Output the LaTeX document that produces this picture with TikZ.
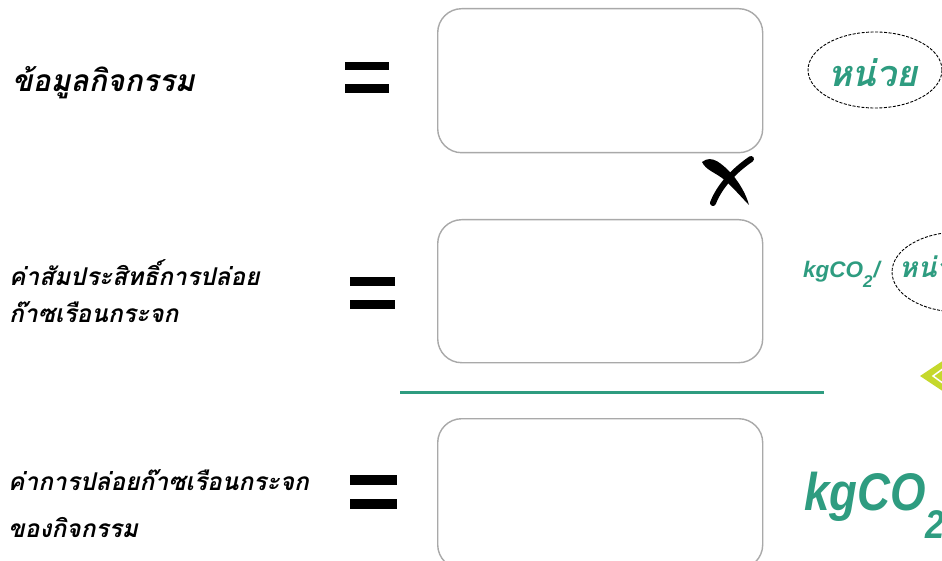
\documentclass[tikz,border=0pt]{standalone}
\usepackage{fontspec}
\usetikzlibrary{shapes.geometric}
\setmainfont{Liberation Sans}
\newfontfamily\thaifont[Script=Thai]{Loma}
\newfontfamily\latinb{Liberation Sans}
\newfontfamily\latinc[FakeStretch=0.86]{Liberation Sans}
\definecolor{tgreen}{HTML}{2E9C80}
\definecolor{lime}{HTML}{C5D82C}
\definecolor{boxgray}{HTML}{A9A9A9}
\tikzset{
  blankbox/.style={draw=boxgray, line width=1.4pt, rounded corners=24pt, fill=white},
  eqbar/.style={fill=black, draw=none},
  label/.style={anchor=base west, inner sep=0pt, font=\thaifont\bfseries\itshape},
  unit/.style={anchor=base west, inner sep=0pt, text=tgreen},
  dashell/.style={draw=black, dashed, line width=0.9pt, dash pattern=on 3pt off 1.5pt}
}
\begin{document}
\begin{tikzpicture}[x=1pt,y=-1pt]
\useasboundingbox (0,0) rectangle (942,561);
\clip (0,0) rectangle (942,561);
\fill[white] (0,0) rectangle (942,561);

% labels
\node[label, font=\thaifont\bfseries\itshape\fontsize{30}{36}\selectfont] (l1) at (12,92) {ข้อมูลกิจกรรม};
\node[label, font=\thaifont\bfseries\itshape\fontsize{24.5}{30}\selectfont] (l2a) at (9,286) {ค่าสัมประสิทธิ์การปล่อย};
\node[label, font=\thaifont\bfseries\itshape\fontsize{24.5}{30}\selectfont] (l2b) at (9,322) {ก๊าซเรือนกระจก};
\node[label, font=\thaifont\bfseries\itshape\fontsize{24.5}{30}\selectfont] (l3a) at (8,490) {ค่าการปล่อยก๊าซเรือนกระจก};
\node[label, font=\thaifont\bfseries\itshape\fontsize{24.5}{30}\selectfont] (l3b) at (8,537) {ของกิจกรรม};

% equals signs
\fill[eqbar] (345,62) rectangle (389,70);
\fill[eqbar] (345,84) rectangle (389,93);
\fill[eqbar] (350,277) rectangle (395,286);
\fill[eqbar] (350,300) rectangle (395,309);
\fill[eqbar] (350,475) rectangle (397,485);
\fill[eqbar] (350,499) rectangle (397,509);

% boxes
\node[blankbox, minimum width=325pt, minimum height=144pt, anchor=north west] (b1) at (437,8) {};
\node[blankbox, minimum width=325pt, minimum height=143pt, anchor=north west] (b2) at (437,219) {};
\node[blankbox, minimum width=325pt, minimum height=150pt, anchor=north west] (b3) at (437,418) {};

% divider line
\draw[tgreen, line width=3pt] (400,392) -- (824,392);

% multiply mark
\fill[black] (702,162) .. controls (712,154) and (722,164) .. (732,174)
  .. controls (740,184) and (746,194) .. (749,205)
  .. controls (742,198) and (732,186) .. (722,178)
  .. controls (714,172) and (706,170) .. cycle;
\draw[black, line width=6pt, line cap=round] (751,159) .. controls (735,170) and (720,185) .. (713,203);

% row 1 unit
\node[dashell, ellipse, minimum width=134pt, minimum height=76pt, inner sep=0pt] (e1) at (875,70) {};
\node[unit, font=\thaifont\bfseries\itshape\fontsize{36}{40}\selectfont] (u1) at (828,87) {หน่วย};

% row 2 unit
\node[dashell, ellipse, minimum width=134pt, minimum height=80pt, inner sep=0pt] (e2) at (959,272) {};
\node[unit, font=\latinb\bfseries\itshape\fontsize{22.5}{26}\selectfont] (u2) at (803,277) {kgCO\raisebox{-0.9ex}{\fontsize{17}{20}\selectfont 2}\hspace{1pt}/};
\node[unit, font=\thaifont\bfseries\itshape\fontsize{28}{32}\selectfont] (u2b) at (899,277) {หน่วย};

% row 3 unit
\node[unit, font=\latinc\bfseries\itshape\fontsize{53}{60}\selectfont] (u3) at (804,510) {kgCO\raisebox{-1.0ex}{\fontsize{40}{44}\selectfont 2}};

% lime arrow
\fill[lime] (920,376) -- (944,360) -- (944,392) -- cycle;
\draw[white, line width=1.5pt] (944,368) -- (933,376) -- (944,384);
\end{tikzpicture}
\end{document}
